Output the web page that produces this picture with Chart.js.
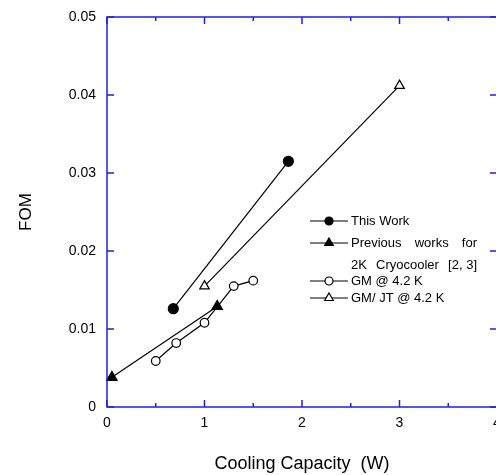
<!DOCTYPE html>
<html>
<head>
<meta charset="utf-8">
<script src="https://cdn.jsdelivr.net/npm/chart.js@4.4.1/dist/chart.umd.min.js"></script>
<style>
  html, body { margin: 0; padding: 0; background: #fff; overflow: hidden; }
  #wrap { width: 496px; height: 475px; overflow: hidden; }
</style>
</head>
<body>
<div id="wrap"><canvas id="fomChart" width="497" height="475"></canvas></div>
<script>
// data
var capThisWork = [0.68, 1.86];
var fomThisWork = [0.0126, 0.0315];
var capPrev = [0.05, 1.13];
var fomPrev = [0.0038, 0.0129];
var capGM = [0.5, 0.71, 1.0, 1.3, 1.5];
var fomGM = [0.0059, 0.0082, 0.0108, 0.0155, 0.0162];
var capGMJT = [1.0, 3.0];
var fomGMJT = [0.0155, 0.0412];

var xTickValues = [0, 1, 2, 3, 4];
var xTickLabels = ['0', '1', '2', '3', '4'];
var xMinorValues = [0.5, 1.5, 2.5, 3.5];
var yTickValues = [0, 0.01, 0.02, 0.03, 0.04, 0.05];
var yTickLabels = ['0', '0.01', '0.02', '0.03', '0.04', '0.05'];

// each legend line is a list of words spread across the text width when justified
var legendRows = [
    { lines: [['This Work']], style: 'circle', fill: true },
    { lines: [['Previous', 'works', 'for'], ['2K', 'Cryocooler', '[2, 3]']], style: 'triangle', fill: true },
    { lines: [['GM @ 4.2 K']], style: 'circle', fill: false },
    { lines: [['GM/ JT @ 4.2 K']], style: 'triangle', fill: false }
];

function pts(xs, ys) {
    var out = [];
    for (var i = 0; i < xs.length; i++) out.push({ x: xs[i], y: ys[i] });
    return out;
}

var axisBlue = '#1f1fe8';

function mark(ctx, style, fill, x, y, r) {
    ctx.beginPath();
    if (style === 'circle') {
        ctx.arc(x, y, r, 0, Math.PI * 2);
    } else {
        var h = r * 1.5;
        var half = r * Math.sqrt(3) / 2;
        ctx.moveTo(x, y - h * 2 / 3);
        ctx.lineTo(x + half, y + h / 3);
        ctx.lineTo(x - half, y + h / 3);
        ctx.closePath();
    }
    ctx.fillStyle = fill ? '#000' : '#fff';
    ctx.fill();
    ctx.lineWidth = 1.2;
    ctx.strokeStyle = '#000';
    ctx.stroke();
}

// blue frame with inward ticks on all four sides
var framePlugin = {
    id: 'frame',
    afterDraw: function (chart) {
        var ctx = chart.ctx, a = chart.chartArea;
        var xs = chart.scales.x, ys = chart.scales.y;
        ctx.save();
        ctx.strokeStyle = axisBlue;
        ctx.lineWidth = 1.5;
        ctx.strokeRect(a.left, a.top, a.right - a.left, a.bottom - a.top);
        ctx.beginPath();
        xTickValues.forEach(function (v) {
            var px = xs.getPixelForValue(v);
            ctx.moveTo(px, a.bottom); ctx.lineTo(px, a.bottom - 7);
            ctx.moveTo(px, a.top); ctx.lineTo(px, a.top + 7);
        });
        xMinorValues.forEach(function (v) {
            var px = xs.getPixelForValue(v);
            ctx.moveTo(px, a.bottom); ctx.lineTo(px, a.bottom - 4);
            ctx.moveTo(px, a.top); ctx.lineTo(px, a.top + 4);
        });
        yTickValues.forEach(function (v) {
            var py = ys.getPixelForValue(v);
            ctx.moveTo(a.left, py); ctx.lineTo(a.left + 7, py);
            ctx.moveTo(a.right, py); ctx.lineTo(a.right - 7, py);
        });
        ctx.stroke();
        ctx.restore();
    }
};

// legend box inside the plot
var legendPlugin = {
    id: 'inlineLegend',
    afterDraw: function (chart) {
        var ctx = chart.ctx;
        var rowsY = [221, 243, 265, 281, 298];
        var textLeft = 351, textRight = 477;
        var k = 0;
        ctx.save();
        ctx.font = '13px "Liberation Sans", Arial, sans-serif';
        ctx.textBaseline = 'middle';
        legendRows.forEach(function (row) {
            var y = rowsY[k];
            ctx.beginPath();
            ctx.moveTo(310, y); ctx.lineTo(348, y);
            ctx.lineWidth = 1.2; ctx.strokeStyle = '#000';
            ctx.stroke();
            mark(ctx, row.style, row.fill, 329, y, row.style === 'circle' ? 4 : 5);
            row.lines.forEach(function (words) {
                var ly = rowsY[k];
                ctx.fillStyle = '#000';
                if (words.length > 1) {
                    var total = 0;
                    words.forEach(function (w) { total += ctx.measureText(w).width; });
                    var gap = (textRight - textLeft - total) / (words.length - 1);
                    var cx = textLeft;
                    words.forEach(function (w) {
                        ctx.fillText(w, cx, ly);
                        cx += ctx.measureText(w).width + gap;
                    });
                } else {
                    ctx.fillText(words[0], textLeft, ly);
                }
                k++;
            });
        });
        ctx.restore();
    }
};

var tickFont = { family: '"Liberation Sans", Arial, sans-serif', size: 14 };

new Chart(document.getElementById('fomChart'), {
    type: 'scatter',
    data: {
        datasets: [{
            label: 'This Work',
            data: pts(capThisWork, fomThisWork),
            showLine: true,
            borderColor: '#000',
            borderWidth: 1.2,
            pointStyle: 'circle',
            pointRadius: 5,
            pointBackgroundColor: '#000',
            pointBorderColor: '#000'
        }, {
            label: 'Previous works for 2K Cryocooler [2, 3]',
            data: pts(capPrev, fomPrev),
            showLine: true,
            borderColor: '#000',
            borderWidth: 1.2,
            pointStyle: 'triangle',
            pointRadius: 6,
            pointBackgroundColor: '#000',
            pointBorderColor: '#000'
        }, {
            label: 'GM @ 4.2 K',
            data: pts(capGM, fomGM),
            showLine: true,
            borderColor: '#000',
            borderWidth: 1.2,
            pointStyle: 'circle',
            pointRadius: 4.3,
            pointBackgroundColor: '#fff',
            pointBorderColor: '#000',
            pointBorderWidth: 1.2
        }, {
            label: 'GM/ JT @ 4.2 K',
            data: pts(capGMJT, fomGMJT),
            showLine: true,
            borderColor: '#000',
            borderWidth: 1.2,
            pointStyle: 'triangle',
            pointRadius: 5.5,
            pointBackgroundColor: '#fff',
            pointBorderColor: '#000',
            pointBorderWidth: 1.2
        }]
    },
    options: {
        responsive: false,
        animation: false,
        clip: false,
        layout: { autoPadding: false, padding: { top: 17, right: 0, left: 0, bottom: 0 } },
        plugins: { legend: { display: false }, tooltip: { enabled: false } },
        scales: {
            x: {
                type: 'linear',
                min: 0,
                max: 4,
                afterBuildTicks: function (s) { s.ticks = xTickValues.map(function (v) { return { value: v }; }); },
                afterFit: function (s) { s.height = 68; s.paddingLeft = 0; s.paddingRight = 0; },
                grid: { display: false, drawTicks: false },
                border: { display: false },
                ticks: {
                    font: tickFont,
                    color: '#000',
                    padding: 8,
                    maxRotation: 0,
                    autoSkip: false,
                    callback: function (v, i) { return xTickLabels[i]; }
                },
                title: {
                    display: true,
                    text: 'Cooling Capacity  (W)',
                    color: '#000',
                    font: { family: '"Liberation Sans", Arial, sans-serif', size: 18 },
                    padding: { top: 0, bottom: 0 }
                }
            },
            y: {
                type: 'linear',
                min: 0,
                max: 0.05,
                afterBuildTicks: function (s) { s.ticks = yTickValues.map(function (v) { return { value: v }; }); },
                afterFit: function (s) { s.width = 107; s.paddingTop = 0; s.paddingBottom = 0; },
                grid: { display: false, drawTicks: false },
                border: { display: false },
                ticks: {
                    font: tickFont,
                    color: '#000',
                    padding: 11,
                    autoSkip: false,
                    callback: function (v, i) { return yTickLabels[i]; }
                },
                title: {
                    display: true,
                    text: 'FOM',
                    color: '#000',
                    font: { family: '"Liberation Sans", Arial, sans-serif', size: 17 },
                    padding: { top: 16, bottom: 0 }
                }
            }
        }
    },
    plugins: [framePlugin, legendPlugin]
});
</script>
</body>
</html>
